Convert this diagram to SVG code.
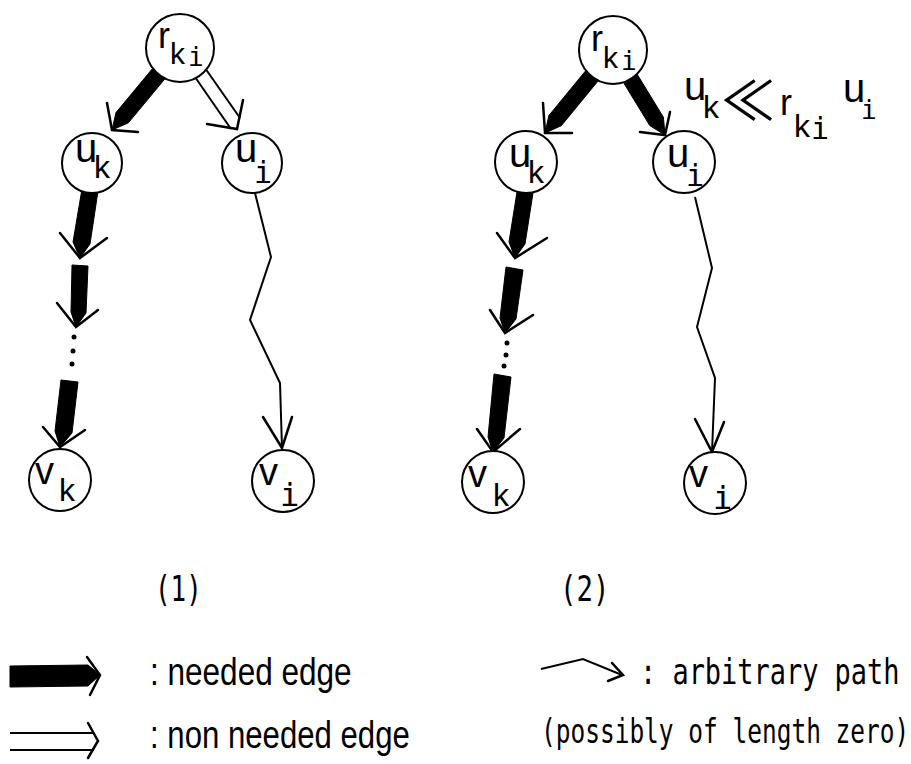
<svg xmlns="http://www.w3.org/2000/svg" width="911" height="764" viewBox="0 0 911 764">
<style>
.bg{fill:#fff}
.node circle{fill:#fff;stroke:#000;stroke-width:2}
.thin{fill:none;stroke:#000;stroke-width:2;stroke-linejoin:miter}
.head{fill:none;stroke:#000;stroke-width:2.5;stroke-linecap:round;stroke-linejoin:miter}
.band{fill:#000;stroke:#000;stroke-width:1}
.dot{fill:#000}
.s{font-family:"Liberation Sans",Arial,sans-serif;fill:#000}
.i{font-family:"DejaVu Sans Mono",monospace;fill:#000}
.dm{font-family:"DejaVu Sans Mono",monospace;fill:#000}
.cjk{font-family:"Noto Sans CJK JP","DejaVu Sans",sans-serif;fill:#000}
</style>
<rect class="bg" x="0" y="0" width="911" height="764"/>

<g id="connectors">
  <!-- diagram 1 -->
  <polygon class="band" points="164.5,79.3 152.1,69.1 116,112.6 112,130 128.4,122.8"/>
  <polyline class="head" points="107,103 112,130 138,132"/>
  <line class="thin" x1="195" y1="77" x2="231" y2="129"/>
  <line class="thin" x1="205" y1="68" x2="240" y2="118"/>
  <polyline class="head" points="243,100 237,129 207,124"/>
  <polygon class="band" points="82,189 98,191 90,244 80,258 73,242"/>
  <polyline class="head" points="60,233 80,258 107,238"/>
  <polygon class="band" points="72,265 88,266 86,313 76,327 71,312"/>
  <polyline class="head" points="57,303 76,327 98,310"/>
  <circle class="dot" cx="74" cy="337" r="2.5"/>
  <circle class="dot" cx="73" cy="351" r="2.5"/>
  <circle class="dot" cx="72" cy="364" r="2.5"/>
  <polygon class="band" points="61,380 78,382 72,433 60,447 55,431"/>
  <polyline class="head" points="43,427 60,447 85,430"/>
  <polyline class="thin" points="255,193 271,257 250,320 280,383 282,448"/>
  <polyline class="head" points="263,417 282,448 292,417"/>
  <!-- diagram 2 -->
  <polygon class="band" points="597.7,81.4 585.3,71.2 548.9,115.5 545,133 561.3,125.7"/>
  <polyline class="head" points="543,103 545,133 572,133"/>
  <polygon class="band" points="637.5,74.8 623.9,83.2 649.8,125.6 665,135 663.4,117.2"/>
  <polyline class="head" points="670,112 665,135 640,132"/>
  <polygon class="band" points="517,192 533,193 525,244 515,258 509,242"/>
  <polyline class="head" points="497,233 515,258 547,238"/>
  <polygon class="band" points="506,267 523,270 516,319 505,333 500,318"/>
  <polyline class="head" points="490,310 505,333 533,315"/>
  <circle class="dot" cx="507" cy="343" r="2.5"/>
  <circle class="dot" cx="506" cy="355" r="2.5"/>
  <circle class="dot" cx="504" cy="366" r="2.5"/>
  <polygon class="band" points="494,374 511,377 504,438 493,452 488,437"/>
  <polyline class="head" points="477,429 493,452 520,429"/>
  <polyline class="thin" points="695,197 712,268 697,327 715,378 712,452"/>
  <polyline class="head" points="695,419 712,452 724,422"/>
</g>

<g id="d1-rki" class="node">
  <circle cx="180" cy="48" r="34"/>
  <text class="s" x="158" y="48" font-size="36">r</text>
  <text class="s" x="170" y="64" font-size="30">k</text>
  <text class="i" x="188" y="66" font-size="26">i</text>
</g>
<g id="d1-uk" class="node">
  <circle cx="92" cy="163" r="30"/>
  <text class="s" x="75" y="162" font-size="40">u</text>
  <text class="s" x="94" y="178" font-size="32">k</text>
</g>
<g id="d1-ui" class="node">
  <circle cx="252" cy="163" r="30"/>
  <text class="s" x="235" y="162" font-size="40">u</text>
  <text class="i" x="254" y="183" font-size="30">i</text>
</g>
<g id="d1-vk" class="node">
  <circle cx="60" cy="480" r="31"/>
  <text class="s" x="35" y="484" font-size="38">v</text>
  <text class="s" x="59" y="501" font-size="32">k</text>
</g>
<g id="d1-vi" class="node">
  <circle cx="283" cy="481" r="31"/>
  <text class="s" x="259" y="485" font-size="38">v</text>
  <text class="i" x="280" y="506" font-size="32">i</text>
</g>

<g id="d2-rki" class="node">
  <circle cx="613" cy="50" r="34"/>
  <text class="s" x="591" y="51" font-size="36">r</text>
  <text class="s" x="603" y="68" font-size="30">k</text>
  <text class="i" x="621" y="70" font-size="26">i</text>
</g>
<g id="d2-uk" class="node">
  <circle cx="526" cy="162" r="31"/>
  <text class="s" x="509" y="167" font-size="40">u</text>
  <text class="s" x="528" y="183" font-size="32">k</text>
</g>
<g id="d2-ui" class="node">
  <circle cx="684" cy="162" r="31"/>
  <text class="s" x="667" y="167" font-size="40">u</text>
  <text class="i" x="686" y="186" font-size="30">i</text>
</g>
<g id="d2-vk" class="node">
  <circle cx="493" cy="482" r="31"/>
  <text class="s" x="468" y="487" font-size="38">v</text>
  <text class="s" x="493" y="506" font-size="32">k</text>
</g>
<g id="d2-vi" class="node">
  <circle cx="715" cy="483" r="31"/>
  <text class="s" x="689" y="487" font-size="38">v</text>
  <text class="i" x="713" y="509" font-size="32">i</text>
</g>

<g id="relation-label">
  <text class="s" x="684" y="100" font-size="40">u</text>
  <text class="s" x="703" y="118" font-size="32">k</text>
  <text class="cjk" x="721" y="121" font-size="54">≪</text>
  <text class="s" x="780" y="115" font-size="36">r</text>
  <text class="s" x="794" y="137" font-size="32">k</text>
  <text class="i" x="811" y="139" font-size="30">i</text>
  <text class="s" x="843" y="102" font-size="40">u</text>
  <text class="i" x="861" y="119" font-size="26">i</text>
</g>

<g id="captions">
  <text class="dm" transform="translate(155,601) scale(0.72,1)" font-size="36">(1)</text>
  <text class="dm" transform="translate(560,601) scale(0.76,1)" font-size="36">(2)</text>
</g>

<g id="legend">
  <polygon class="band" points="10,666 88,665 100,675 88,686 10,687"/>
  <polyline class="head" points="87,657 100,675 90,695"/>
  <text class="s" transform="translate(150,685) scale(0.83,1)" font-size="38">: needed edge</text>
  <line class="thin" x1="10" y1="733" x2="94" y2="733"/>
  <line class="thin" x1="10" y1="750" x2="94" y2="750"/>
  <polyline class="head" points="88,723 98,741 88,758"/>
  <text class="s" transform="translate(150,748) scale(0.82,1)" font-size="38">: non needed edge</text>
  <polyline class="thin" points="541,669 583,659 622,675"/>
  <polyline class="head" points="612,663 623,675 608,681"/>
  <text class="dm" transform="translate(640,684) scale(0.77,1)" font-size="35">: arbitrary path</text>
  <text class="dm" transform="translate(541,743) scale(0.72,1)" font-size="34">(possibly of length zero)</text>
</g>
</svg>
